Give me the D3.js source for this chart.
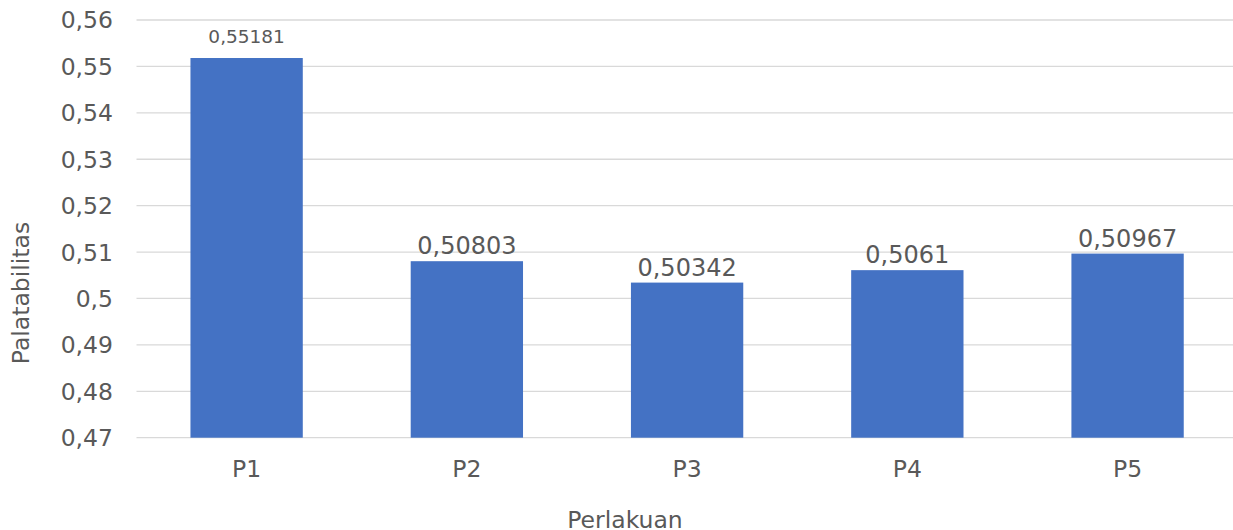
<!DOCTYPE html>
<html>
<head>
<meta charset="utf-8">
<script src="https://cdn.jsdelivr.net/npm/d3@7"></script>
<style>
  body { margin: 0; background: #fff; }
  svg text { font-family: "DejaVu Sans", Verdana, sans-serif; fill: #595959; }
</style>
</head>
<body>
<div id="chart"></div>
<script>
// data
const categories = ["P1", "P2", "P3", "P4", "P5"];
const values = [0.55181, 0.50803, 0.50342, 0.5061, 0.50967];
const valueLabels = ["0,55181", "0,50803", "0,50342", "0,5061", "0,50967"];
const yTicks = [0.47, 0.48, 0.49, 0.5, 0.51, 0.52, 0.53, 0.54, 0.55, 0.56];

const W = 1233, H = 530;
const plot = { left: 136.5, right: 1237.7, top: 20, bottom: 437.7 };

const svg = d3.select("#chart").append("svg")
  .attr("width", W)
  .attr("height", H);

const x = d3.scaleBand()
  .domain(categories)
  .range([plot.left, plot.right])
  .paddingInner(0.49)
  .paddingOuter(0.245);

const y = d3.scaleLinear()
  .domain([0.47, 0.56])
  .range([plot.bottom, plot.top]);

// grid
svg.append("g")
  .selectAll("line")
  .data(yTicks)
  .enter().append("line")
  .attr("x1", plot.left)
  .attr("x2", plot.right)
  .attr("y1", d => y(d))
  .attr("y2", d => y(d))
  .attr("stroke", "#d9d9d9")
  .attr("stroke-width", 1.3);

// y tick labels
svg.append("g")
  .selectAll("text")
  .data(yTicks)
  .enter().append("text")
  .attr("x", 113)
  .attr("y", d => y(d))
  .attr("dy", "0.36em")
  .attr("text-anchor", "end")
  .style("font-size", "23.5px")
  .text(d => String(+d.toFixed(2)).replace(".", ","));

// bars
svg.append("g")
  .selectAll("rect")
  .data(values)
  .enter().append("rect")
  .attr("x", (d, i) => x(categories[i]))
  .attr("y", d => y(d))
  .attr("width", x.bandwidth())
  .attr("height", d => y(0.47) - y(d))
  .attr("fill", "#4472c4");

// value labels (first one smaller, as in the original)
svg.append("g")
  .selectAll("text")
  .data(values)
  .enter().append("text")
  .attr("x", (d, i) => x(categories[i]) + x.bandwidth() / 2)
  .attr("y", (d, i) => y(d) - (i === 0 ? 15 : 7))
  .attr("text-anchor", "middle")
  .style("font-size", (d, i) => i === 0 ? "18.5px" : "24px")
  .text((d, i) => valueLabels[i]);

// x tick labels
svg.append("g")
  .selectAll("text")
  .data(categories)
  .enter().append("text")
  .attr("x", d => x(d) + x.bandwidth() / 2)
  .attr("y", 469)
  .attr("dy", "0.36em")
  .attr("text-anchor", "middle")
  .style("font-size", "23.5px")
  .text(d => d);

// axis titles
svg.append("text")
  .attr("x", 625)
  .attr("y", 520)
  .attr("dy", "0.36em")
  .attr("text-anchor", "middle")
  .style("font-size", "23.5px")
  .text("Perlakuan");

svg.append("text")
  .attr("transform", "translate(21,293) rotate(-90)")
  .attr("dy", "0.36em")
  .attr("text-anchor", "middle")
  .style("font-size", "23.5px")
  .text("Palatabilitas");
</script>
</body>
</html>
